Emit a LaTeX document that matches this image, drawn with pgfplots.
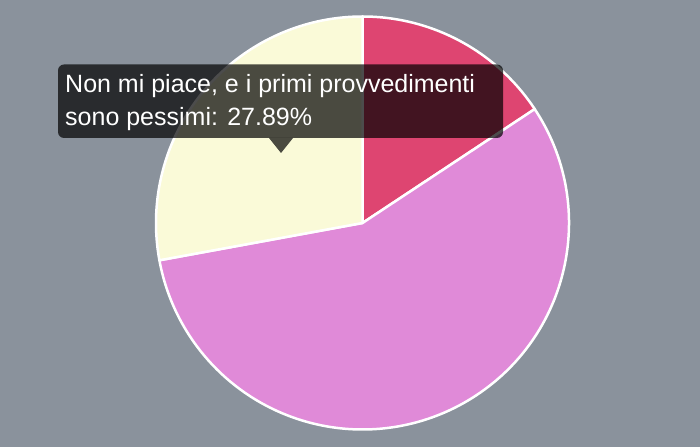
\documentclass[border=0pt]{standalone}
\usepackage{fontspec}
\setmainfont{Liberation Sans}
\usepackage{pgfplots}
\usepackage{pgfplotstable}
\pgfplotsset{compat=1.18}

\definecolor{bgc}{HTML}{8A929C}
\definecolor{cred}{HTML}{DE4571}
\definecolor{cviolet}{HTML}{E08AD8}
\definecolor{cyellow}{HTML}{FAFAD8}

% slice shares in percent, clockwise from 12 o'clock
\pgfplotstableread{
slice value
red 15.70
violet 56.41
yellow 27.89
}\piedata

\begin{document}
\begin{tikzpicture}
\pgfplotstablegetelem{0}{value}\of\piedata \let\va\pgfplotsretval
\pgfplotstablegetelem{1}{value}\of\piedata \let\vb\pgfplotsretval
\pgfplotstablegetelem{2}{value}\of\piedata \let\vc\pgfplotsretval
\pgfmathsetmacro\aA{90}
\pgfmathsetmacro\aB{\aA-3.6*\va}
\pgfmathsetmacro\aC{\aB-3.6*\vb}
\pgfmathsetmacro\aD{\aC-3.6*\vc}
\def\cx{362.5}\def\cy{224}\def\rr{206.5pt}
\begin{axis}[
    scale only axis,
    width=700pt, height=447pt,
    xmin=0, xmax=700, ymin=0, ymax=447,
    hide axis, clip=false,
]
\fill[bgc] (axis cs:0,0) rectangle (axis cs:700,447);
\filldraw[fill=cred, draw=white, line width=2.5pt, line join=round]
    (axis cs:\cx,\cy) -- ++(\aA:\rr) arc[start angle=\aA, end angle=\aB, radius=\rr] -- cycle;
\filldraw[fill=cviolet, draw=white, line width=2.5pt, line join=round]
    (axis cs:\cx,\cy) -- ++(\aB:\rr) arc[start angle=\aB, end angle=\aC, radius=\rr] -- cycle;
\filldraw[fill=cyellow, draw=white, line width=2.5pt, line join=round]
    (axis cs:\cx,\cy) -- ++(\aC:\rr) arc[start angle=\aC, end angle=\aD, radius=\rr] -- cycle;
% tooltip
\fill[black, opacity=0.7, rounded corners=6pt]
    (axis cs:58,309) rectangle (axis cs:503,382.5);
\fill[black, opacity=0.7] (axis cs:269,309) -- (axis cs:281,294) -- (axis cs:293,309) -- cycle;
\node[anchor=base west, inner sep=0pt, text=white, font=\fontsize{25}{30}\selectfont]
    at (axis cs:65,354) {Non mi piace, e i primi provvedimenti};
\node[anchor=base west, inner sep=0pt, text=white, font=\fontsize{25}{30}\selectfont]
    at (axis cs:65,321) {sono pessimi: 27.89\%};
\end{axis}
\end{tikzpicture}
\end{document}
